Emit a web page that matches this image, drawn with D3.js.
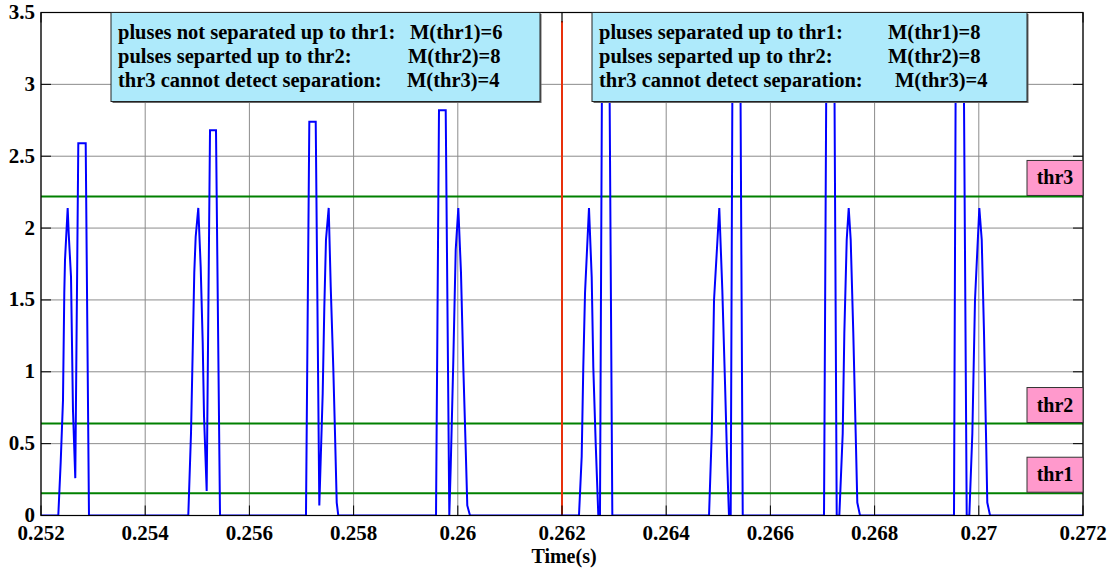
<!DOCTYPE html>
<html>
<head>
<meta charset="utf-8">
<script src="https://cdn.jsdelivr.net/npm/d3@7"></script>
<style>
  body { margin: 0; background: #fff; }
  text { font-family: "Liberation Serif", "Times New Roman", serif; font-weight: bold; }
</style>
</head>
<body>
<script>

// signal samples (time in s, amplitude)
var signalTime = [
  0.252,
  0.252332, 0.252378, 0.252422, 0.252447, 0.252461, 0.252512, 0.252532, 0.252576, 0.252614, 0.252658, 0.252716, 0.252858, 0.252921,
  0.254827, 0.254879, 0.254912, 0.254942, 0.254969, 0.255019, 0.255065, 0.255104, 0.255129, 0.25518, 0.255244, 0.255359, 0.255436,
  0.257086, 0.25715, 0.257273, 0.257342, 0.257407, 0.257438, 0.25747, 0.257522, 0.257561, 0.25761, 0.257643, 0.257676, 0.257706,
  0.259582, 0.259639, 0.259768, 0.259837, 0.259864, 0.259914, 0.25996, 0.26001, 0.260061, 0.260106, 0.260152, 0.260182, 0.260234,
  0.262326, 0.262378, 0.262409, 0.262442, 0.262518, 0.26257, 0.262601, 0.262647, 0.262697, 0.262729, 0.262774, 0.262902, 0.262966,
  0.264822, 0.264874, 0.264918, 0.265019, 0.265077, 0.265129, 0.265173, 0.265205, 0.265238, 0.265277, 0.265417, 0.265469,
  0.267029, 0.267081, 0.267221, 0.267273, 0.267323, 0.267388, 0.267419, 0.267465, 0.267503, 0.267541, 0.267591, 0.267637, 0.267668, 0.26772,
  0.269524, 0.269562, 0.269703, 0.269768, 0.269818, 0.269876, 0.269927, 0.27001, 0.270056, 0.2701, 0.270138, 0.270163, 0.270216,
  0.272
];
var signalValue = [
  0,
  0, 0.37, 0.80, 1.55, 1.78, 2.14, 1.96, 1.66, 0.73, 0.26, 2.59, 2.59, 0,
  0, 0.57, 1.15, 1.69, 1.94, 2.14, 1.73, 1.20, 0.69, 0.17, 2.68, 2.68, 0,
  0, 2.74, 2.74, 0.07, 0.85, 1.45, 1.92, 2.14, 1.59, 1.03, 0.57, 0.09, 0,
  0, 2.82, 2.82, 0, 0.34, 1.08, 1.85, 2.14, 1.69, 1.03, 0.46, 0.07, 0,
  0, 0.41, 1.04, 1.55, 2.14, 1.66, 1.03, 0.5, 0, 0, 3.6, 3.6, 0,
  0, 0.57, 1.5, 2.14, 1.57, 0.92, 0.34, 0, 0, 3.6, 3.6, 0,
  0, 3.6, 3.6, 0, 0, 0.57, 1.27, 1.92, 2.14, 1.92, 1.27, 0.57, 0.09, 0,
  0, 3.6, 3.6, 0, 0, 0.57, 1.5, 2.14, 1.92, 1.27, 0.57, 0.09, 0,
  0
];

var thresholdNames = ["thr1", "thr2", "thr3"];
var thresholdValues = [0.155, 0.64, 2.22];

var markerTime = 0.262;
var markerTop = 3.44;

var xTicks = [0.252, 0.254, 0.256, 0.258, 0.26, 0.262, 0.264, 0.266, 0.268, 0.27, 0.272];
var xTickLabels = ["0.252", "0.254", "0.256", "0.258", "0.26", "0.262", "0.264", "0.266", "0.268", "0.27", "0.272"];
var yTicks = [0, 0.5, 1, 1.5, 2, 2.5, 3, 3.5];
var yTickLabels = ["0", "0.5", "1", "1.5", "2", "2.5", "3", "3.5"];

var leftNotes = ["pluses not separated up to thr1:", "pulses separted up to thr2:", "thr3 cannot detect separation:"];
var leftCounts = ["M(thr1)=6", "M(thr2)=8", "M(thr3)=4"];
var rightNotes = ["pluses separated up to thr1:", "pulses separted up to thr2:", "thr3 cannot detect separation:"];
var rightCounts = ["M(thr1)=8", "M(thr2)=8", "M(thr3)=4"];

function main() {
  var width = 1112, height = 569;
  var left = 41, right = 1083, top = 12.5, bottom = 515.5;

  var svg = d3.select("body").append("svg")
    .attr("width", width)
    .attr("height", height);

  var x = d3.scaleLinear().domain([0.252, 0.272]).range([left, right]);
  var y = d3.scaleLinear().domain([0, 3.5]).range([bottom, top]);

  svg.append("clipPath").attr("id", "plotclip")
    .append("rect")
    .attr("x", left).attr("y", top)
    .attr("width", right - left).attr("height", bottom - top);

  // grid
  svg.append("g").selectAll("line").data(xTicks).enter().append("line")
    .attr("x1", d => x(d)).attr("x2", d => x(d))
    .attr("y1", top).attr("y2", bottom)
    .attr("stroke", "#8c8c8c").attr("stroke-width", 1);
  svg.append("g").selectAll("line").data(yTicks).enter().append("line")
    .attr("x1", left).attr("x2", right)
    .attr("y1", d => y(d)).attr("y2", d => y(d))
    .attr("stroke", "#8c8c8c").attr("stroke-width", 1);

  // thresholds
  svg.append("g").selectAll("line").data(thresholdValues).enter().append("line")
    .attr("x1", left).attr("x2", right)
    .attr("y1", d => y(d)).attr("y2", d => y(d))
    .attr("stroke", "#008000").attr("stroke-width", 2);

  // red marker
  svg.append("line")
    .attr("x1", x(markerTime)).attr("x2", x(markerTime))
    .attr("y1", y(0)).attr("y2", y(markerTop))
    .attr("stroke", "#e8300c").attr("stroke-width", 2);

  // signal
  var pts = signalTime.map((t, i) => [t, signalValue[i]]);
  var line = d3.line().x(d => x(d[0])).y(d => y(d[1]));
  svg.append("path")
    .datum(pts)
    .attr("d", line)
    .attr("clip-path", "url(#plotclip)")
    .attr("fill", "none")
    .attr("stroke", "#0000ff")
    .attr("stroke-width", 2)
    .attr("stroke-linejoin", "miter");

  // axes (box with inward ticks)
  var tickLen = 10;
  var ax = svg.append("g");
  ax.selectAll(".xb").data(xTicks).enter().append("line")
    .attr("x1", d => x(d)).attr("x2", d => x(d))
    .attr("y1", bottom).attr("y2", bottom - tickLen)
    .attr("stroke", "#000");
  ax.selectAll(".xt").data(xTicks).enter().append("line")
    .attr("x1", d => x(d)).attr("x2", d => x(d))
    .attr("y1", top).attr("y2", top + tickLen)
    .attr("stroke", "#000");
  ax.selectAll(".yl").data(yTicks).enter().append("line")
    .attr("x1", left).attr("x2", left + tickLen)
    .attr("y1", d => y(d)).attr("y2", d => y(d))
    .attr("stroke", "#000");
  ax.selectAll(".yr").data(yTicks).enter().append("line")
    .attr("x1", right).attr("x2", right - tickLen)
    .attr("y1", d => y(d)).attr("y2", d => y(d))
    .attr("stroke", "#000");
  ax.append("rect")
    .attr("x", left).attr("y", top)
    .attr("width", right - left).attr("height", bottom - top)
    .attr("fill", "none").attr("stroke", "#000").attr("stroke-width", 1.2);

  // tick labels
  svg.append("g").selectAll("text").data(xTicks).enter().append("text")
    .attr("x", d => x(d)).attr("y", 540)
    .attr("text-anchor", "middle")
    .attr("font-size", "21px")
    .text((d, i) => xTickLabels[i]);
  svg.append("g").selectAll("text").data(yTicks).enter().append("text")
    .attr("x", left - 6).attr("y", d => y(d) + 6.5)
    .attr("text-anchor", "end")
    .attr("font-size", "21px")
    .text((d, i) => yTickLabels[i]);

  svg.append("text")
    .attr("x", 564).attr("y", 563)
    .attr("text-anchor", "middle")
    .attr("font-size", "20px")
    .text("Time(s)");

  // annotation boxes
  function noteBox(bx, bw, notes, counts, cx) {
    var g = svg.append("g");
    g.append("rect")
      .attr("x", bx + 1.5).attr("y", top + 1.5)
      .attr("width", bw).attr("height", 89)
      .attr("fill", "#666");
    g.append("rect")
      .attr("x", bx).attr("y", top)
      .attr("width", bw).attr("height", 89)
      .attr("fill", "#aeeafb").attr("stroke", "#222").attr("stroke-width", 1);
    notes.forEach(function (n, i) {
      g.append("text")
        .attr("x", bx + 7).attr("y", 38.5 + i * 24)
        .attr("font-size", "20.5px")
        .text(n);
      g.append("text")
        .attr("x", cx[i]).attr("y", 38.5 + i * 24)
        .attr("font-size", "20.5px")
        .text(counts[i]);
    });
  }
  noteBox(111, 429, leftNotes, leftCounts, [410, 408, 407]);
  noteBox(592, 435, rightNotes, rightCounts, [888, 888, 895]);

  // threshold labels
  var lab = svg.append("g").selectAll("g").data(thresholdValues).enter().append("g");
  lab.append("rect")
    .attr("x", right - 56).attr("y", d => y(d) - 36)
    .attr("width", 56).attr("height", 35)
    .attr("fill", "#ff99cc").attr("stroke", "#333").attr("stroke-width", 1);
  lab.append("text")
    .attr("x", right - 28).attr("y", d => y(d) - 12)
    .attr("text-anchor", "middle")
    .attr("font-size", "20px")
    .text((d, i) => thresholdNames[i]);
}

main();
</script>
</body>
</html>
